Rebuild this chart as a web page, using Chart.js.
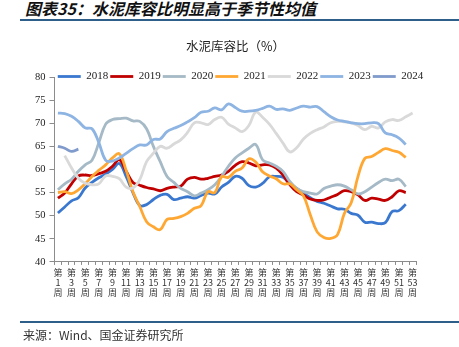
<!DOCTYPE html>
<html>
<head>
<meta charset="utf-8">
<script src="https://cdn.jsdelivr.net/npm/chart.js@4/dist/chart.umd.min.js"></script>
<style>
  html, body { margin: 0; padding: 0; background: #fff; }
  body { width: 459px; height: 347px; position: relative; overflow: hidden; }
  #hd {
    position: absolute; left: 25px; top: -4px;
    font: italic bold 16px "Noto Sans CJK SC", sans-serif;
    color: #111; white-space: nowrap;
  }
  .rule { position: absolute; left: 20px; width: 439px; height: 2px; background: #2e5f8a; }
  #src {
    position: absolute; left: 23px; top: 326px;
    font: 12px "Noto Sans CJK SC", sans-serif; color: #333; white-space: nowrap;
  }
  #wrap { position: absolute; left: 0; top: 0; width: 459px; height: 347px; }
</style>
</head>
<body>
<div id="hd">图表35：水泥库容比明显高于季节性均值</div>
<div class="rule" style="top:19px"></div>
<div id="wrap"><canvas id="myChart"></canvas></div>
<div class="rule" style="top:321px"></div>
<div id="src">来源：Wind、国金证券研究所</div>
<script>
// week labels 第1周 ... 第53周
var weeks = Array.from({length: 53}, (v, i) => "第" + (i + 1) + "周");

var years = ["2018", "2019", "2020", "2021", "2022", "2023", "2024"];
var colors = ["#3a78d0", "#c00000", "#a5bac6", "#ffa733", "#d9d9d9", "#8db4e2", "#7f9acb"];

var s2018 = [50.6, 51.9, 53.2, 53.9, 56.0, 57.2, 58.2, 59.0, 60.0, 61.3, 58.5, 55.0, 52.2, 52.4, 53.5, 54.4,
    54.6, 53.5, 53.8, 54.1, 53.8, 54.4, 54.9, 54.7, 56.2, 57.2, 58.5, 58.1, 56.5, 56.2, 57.0, 58.4,
    58.5, 58.3, 57.0, 55.9, 54.9, 53.9, 53.1, 52.7, 52.1, 51.5, 51.4, 50.5, 50.1, 48.6, 48.6, 48.3,
    48.5, 50.9, 51.1, 52.5];
var s2019 = [53.8, 54.9, 56.9, 58.6, 58.8, 58.7, 59.1, 59.6, 60.7, 62.1, 59.6, 57.2, 56.6, 56.1, 55.8, 55.4,
    55.9, 56.2, 56.4, 57.9, 58.3, 57.9, 58.1, 58.5, 58.8, 59.6, 60.9, 61.7, 61.4, 60.8, 61.0, 61.0,
    60.3, 58.8, 56.7, 55.2, 54.5, 53.6, 53.3, 53.4, 54.0, 54.6, 55.4, 55.2, 54.5, 53.3, 53.8, 53.6,
    53.3, 54.1, 55.4, 55.0];
var s2020 = [55.6, 56.9, 57.9, 59.6, 61.0, 62.0, 65.8, 69.8, 70.8, 71.0, 71.1, 70.5, 70.4, 68.8, 65.0, 61.7,
    58.5, 57.2, 55.9, 55.2, 54.3, 54.9, 55.6, 56.7, 58.5, 60.7, 62.5, 63.6, 64.6, 65.4, 62.1, 61.4,
    60.7, 59.6, 57.4, 55.9, 55.2, 54.9, 54.7, 55.9, 56.4, 56.7, 56.4, 55.6, 54.7, 55.2, 56.2, 57.2,
    57.9, 57.6, 57.9, 56.3];
var s2021 = [55.0, 55.2, 54.8, 55.6, 56.9, 58.5, 59.8, 61.0, 62.5, 63.4, 59.8, 55.2, 52.0, 48.7, 47.6, 47.0,
    49.2, 49.4, 49.8, 50.5, 51.6, 52.2, 55.2, 55.0, 58.4, 58.3, 59.6, 60.3, 62.3, 61.6, 59.5, 58.6,
    58.0, 56.9, 56.9, 55.6, 54.3, 50.2, 46.5, 45.3, 45.1, 45.9, 50.5, 52.8, 58.5, 62.4, 62.8, 63.7,
    64.5, 64.1, 63.7, 62.6];
var s2022 = [null, 63.0, 60.3, 58.1, 57.0, 56.7, 56.9, 58.6, 58.5, 58.0, 56.2, 56.0, 57.8, 61.7, 63.5, 65.0,
    64.6, 65.5, 66.4, 68.0, 70.1, 70.1, 69.7, 70.8, 71.3, 69.8, 69.0, 68.2, 69.5, 72.4, 71.3, 69.8,
    67.8, 65.7, 63.8, 64.7, 66.6, 67.8, 68.6, 69.2, 70.1, 70.4, 70.3, 70.1, 69.5, 68.6, 69.3, 69.0,
    70.3, 70.8, 70.6, 71.4, 72.2];
var s2023 = [72.2, 72.1, 71.5, 70.4, 69.0, 68.8, 65.8, 62.0, 61.8, 62.5, 63.5, 64.5, 65.3, 65.3, 66.5, 66.6,
    68.2, 68.9, 69.5, 70.3, 71.2, 72.4, 72.6, 73.3, 72.9, 74.2, 73.4, 72.6, 72.6, 72.8, 73.2, 73.7,
    73.0, 73.1, 72.8, 73.3, 73.7, 73.5, 73.6, 72.5, 71.4, 70.7, 70.4, 70.1, 69.9, 69.9, 70.1, 69.9,
    67.9, 67.5, 66.8, 65.4];
var s2024 = [65.0, 64.6, 63.9, 64.4];

var seriesData = [s2018, s2019, s2020, s2021, s2022, s2023, s2024];

var buildDatasets = () => {
    let sets = [];
    for (let i = 0; i < years.length; i++) {
        sets.push({
            label: years[i],
            data: seriesData[i],
            borderColor: colors[i],
            backgroundColor: colors[i],
            borderWidth: 2.8,
            pointRadius: 0,
            tension: 0.4,
            order: years.length - i
        });
    }
    return sets;
}

// nudge legend + title the way the original layout has them
var shiftBoxes = {
    id: 'shiftBoxes',
    afterLayout(chart) {
        const lg = chart.legend;
        lg.top += 15; lg.bottom += 15;
        lg.left += 17; lg.right += 17;
        const t = chart.titleBlock;
        t.top += 8; t.bottom += 8;
        t.left += 12; t.right += 12;
    }
};

window.onload = () => {
    const ctx = document.getElementById('myChart').getContext('2d');
    new Chart(ctx, {
        type: 'line',
        data: { labels: weeks, datasets: buildDatasets() },
        options: {
            responsive: true,
            maintainAspectRatio: false,
            animation: false,
            layout: { padding: { left: 31, right: 43, top: 0, bottom: 47 } },
            plugins: {
                title: {
                    display: true,
                    text: '水泥库容比（%）',
                    color: '#222',
                    font: { family: 'Noto Sans CJK SC', size: 12.5, weight: 'normal' },
                    padding: { top: 31, bottom: 8 }
                },
                legend: {
                    labels: {
                        usePointStyle: true,
                        pointStyle: 'line',
                        pointStyleWidth: 23,
                        boxHeight: 11,
                        padding: 2,
                        color: '#222',
                        font: { family: 'Liberation Serif', size: 11 },
                        sort: (a, b) => a.datasetIndex - b.datasetIndex
                    }
                },
                tooltip: { enabled: false }
            },
            scales: {
                x: {
                    offset: true,
                    grid: { display: true, drawOnChartArea: false, offset: true, tickLength: 3, color: '#8c8c8c' },
                    border: { color: '#8c8c8c' },
                    ticks: {
                        autoSkip: false,
                        minRotation: 0,
                        maxRotation: 0,
                        padding: 2,
                        color: '#333',
                        font: { family: 'Noto Sans CJK SC', size: 9, lineHeight: 1.15 },
                        callback: function (value, index) {
                            if (index % 2 != 0) return '';
                            const lbl = weeks[index];
                            return ['第', lbl.slice(1, -1), '周'];
                        }
                    }
                },
                y: {
                    min: 40,
                    max: 80,
                    grid: { display: true, drawOnChartArea: false, tickLength: 5, color: '#8c8c8c' },
                    border: { color: '#8c8c8c' },
                    ticks: {
                        stepSize: 5,
                        padding: 4,
                        color: '#222',
                        font: { family: 'Liberation Serif', size: 10.5 }
                    }
                }
            }
        },
        plugins: [shiftBoxes]
    });
}
</script>
</body>
</html>
